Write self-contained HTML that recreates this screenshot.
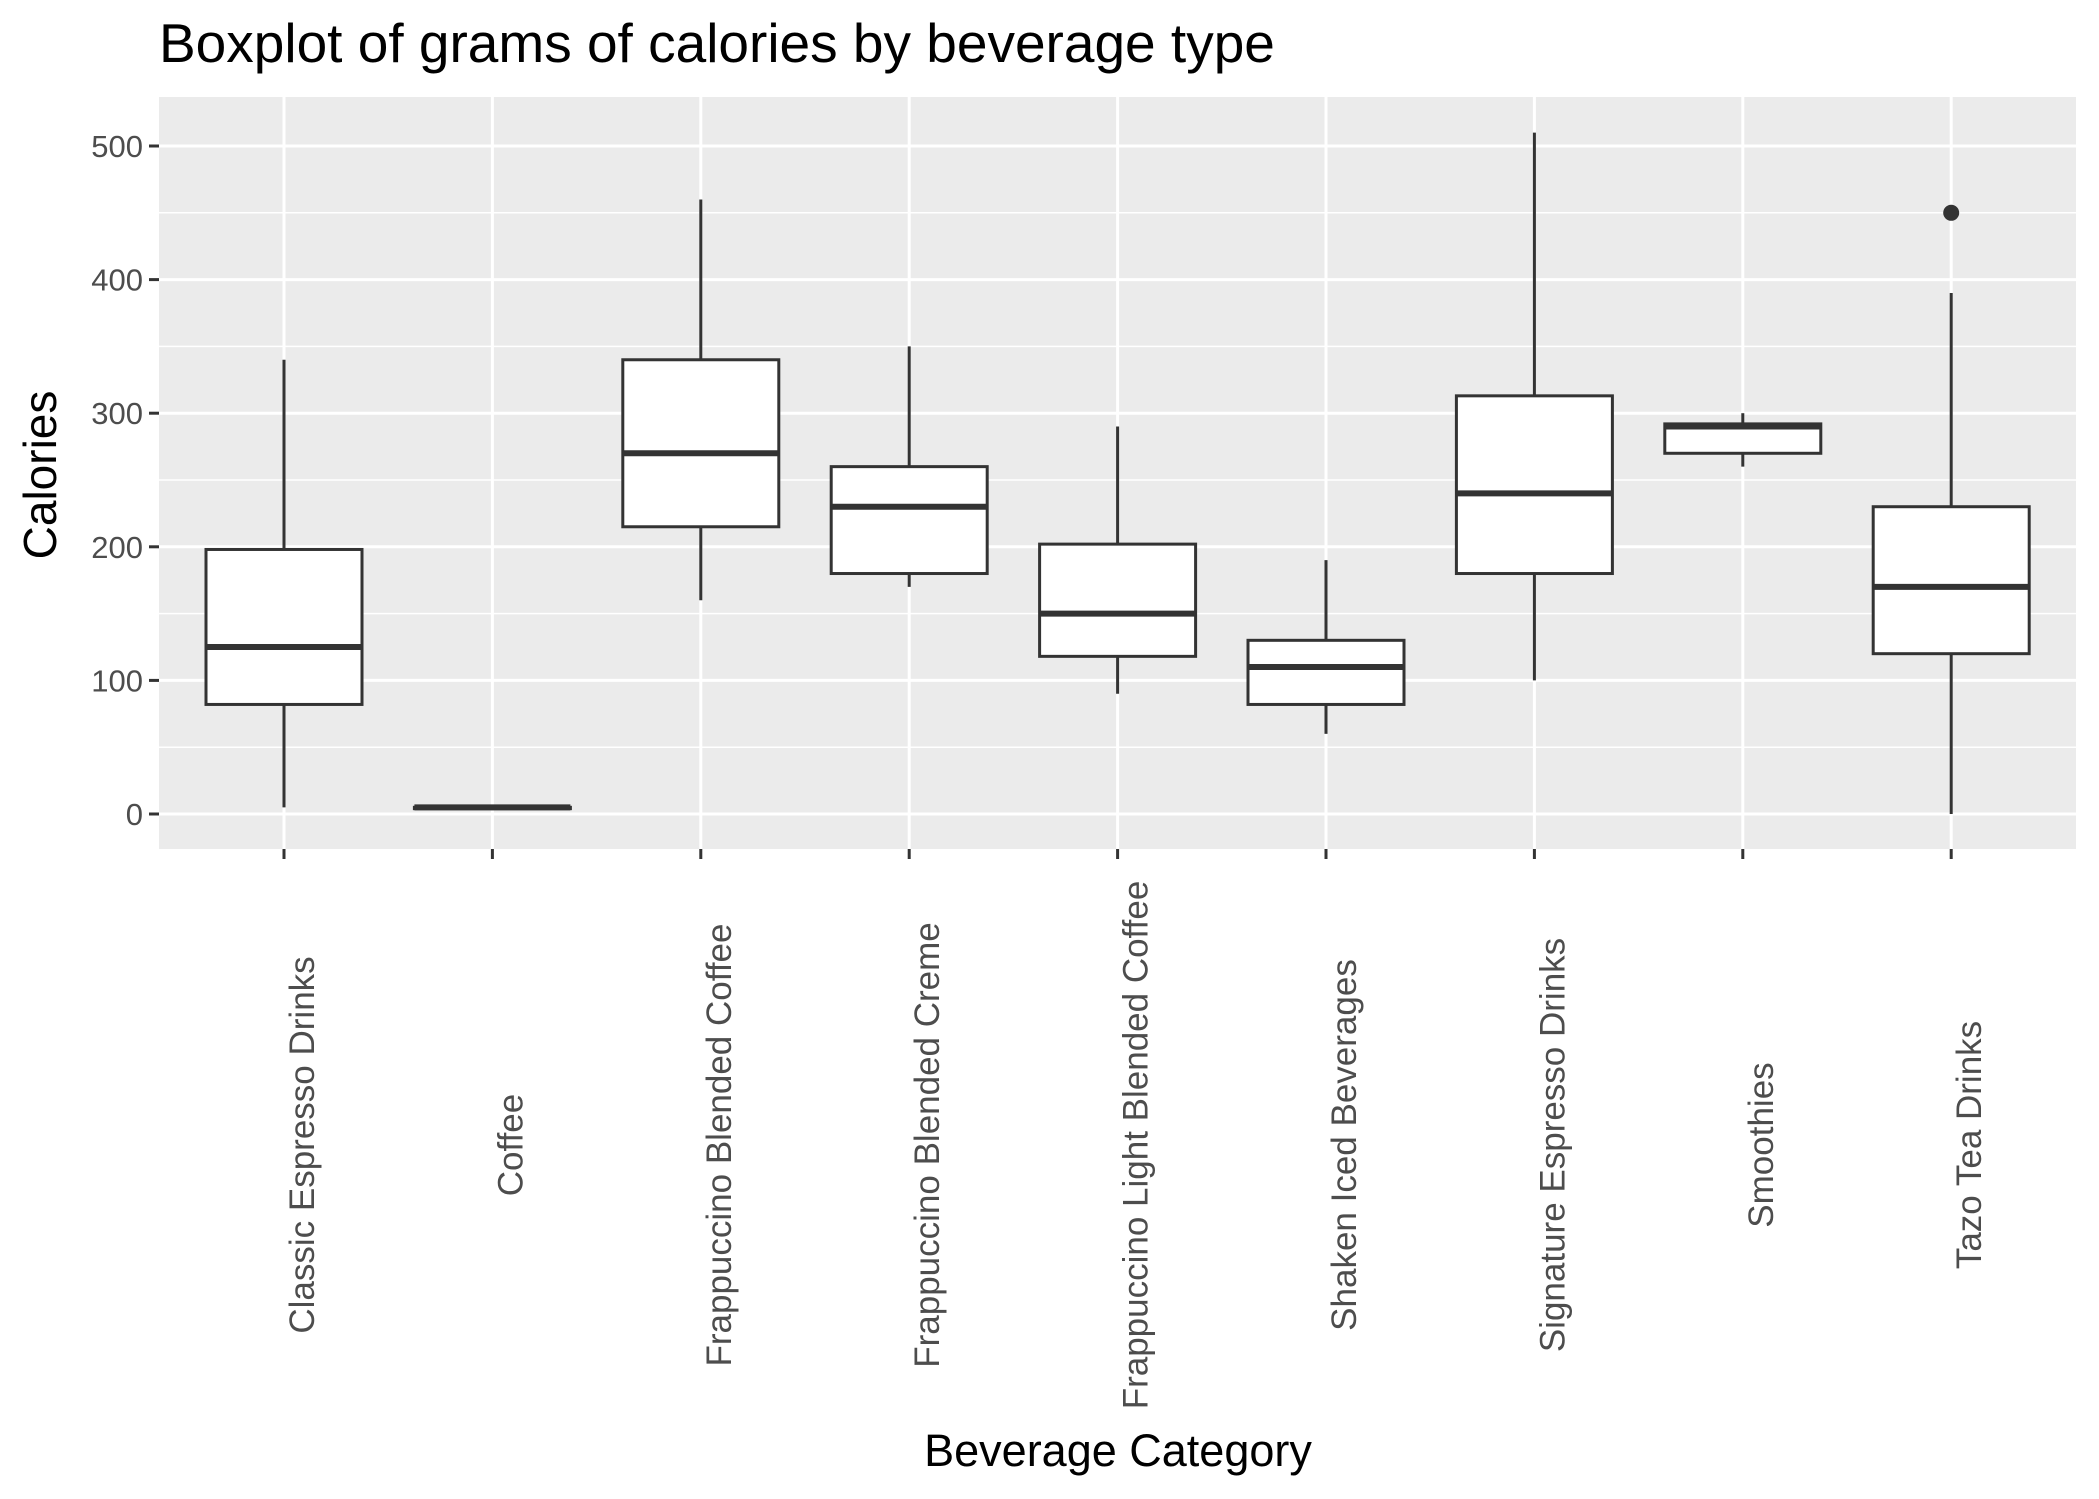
<!DOCTYPE html>
<html><head><meta charset="utf-8"><style>body{margin:0;background:#fff}svg{display:block}</style></head>
<body>
<svg id="chart" width="2099" height="1499" xmlns="http://www.w3.org/2000/svg" font-family="Liberation Sans, sans-serif">
<text x="159" y="62" font-size="55" fill="#000">Boxplot of grams of calories by beverage type</text>
<rect x="159" y="97" width="1917" height="752" fill="#ebebeb"/>
<g id="grid"></g><g id="boxes"></g><g id="axes"></g>
<text x="1118" y="1466" font-size="45" text-anchor="middle" fill="#000">Beverage Category</text>
<text transform="translate(56,475) rotate(-90)" font-size="46" text-anchor="middle" fill="#000">Calories</text>
</svg>
<script>
const categories = ["Classic Espresso Drinks","Coffee","Frappuccino Blended Coffee","Frappuccino Blended Creme","Frappuccino Light Blended Coffee","Shaken Iced Beverages","Signature Espresso Drinks","Smoothies","Tazo Tea Drinks"];
const lowWhisker = [5,3,160,170,90,60,100,260,0];
const q1 = [82,4,215,180,118,82,180,270,120];
const median = [125,5,270,230,150,110,240,290,170];
const q3 = [198,5,340,260,202,130,313,292,230];
const highWhisker = [340,5,460,350,290,190,510,300,390];
const outliers = [[],[],[],[],[],[],[],[],[450]];
const yTicks = [0,100,200,300,400,500];

const NS="http://www.w3.org/2000/svg";
const pl=159, pr=2076, pt=97, pb=849;
function x(i){return 284 + i*208.4;}
function y(v){return 814 - v*(814-146)/500;}
function mk(tag,attrs,parent){const e=document.createElementNS(NS,tag);for(const k in attrs)e.setAttribute(k,attrs[k]);parent.appendChild(e);return e;}
const grid=document.getElementById('grid'), boxes=document.getElementById('boxes'), axes=document.getElementById('axes');
for(let i=0;i<yTicks.length-1;i++){
  const l=mk('line',{x1:pl,x2:pr,y1:y((yTicks[i]+yTicks[i+1])/2),y2:y((yTicks[i]+yTicks[i+1])/2),stroke:'#fff','stroke-width':1.5},grid);
  
  
}
yTicks.forEach(t=>{
  const l=mk('line',{x1:pl,x2:pr,y1:y(t),y2:y(t),stroke:'#fff','stroke-width':3},grid);
  
  
  const tk=mk('line',{x1:pl-10,x2:pl,y1:y(t),y2:y(t),stroke:'#333','stroke-width':3},axes);
  
  
  const tx=mk('text',{x:pl-16,y:y(t)+11,'font-size':31,'text-anchor':'end',fill:'#4d4d4d'},axes);
  tx.textContent=t;
  
  
});
categories.forEach((c,i)=>{
  const cx=x(i), hw=78;
  const g=mk('line',{x1:cx,x2:cx,y1:pt,y2:pb,stroke:'#fff','stroke-width':3},grid);
  
  
  const bg=mk('g',{},boxes);
  
  
  mk('line',{x1:cx,x2:cx,y1:y(highWhisker[i]),y2:y(q3[i]),stroke:'#333','stroke-width':3},bg);
  mk('line',{x1:cx,x2:cx,y1:y(lowWhisker[i]),y2:y(q1[i]),stroke:'#333','stroke-width':3},bg);
  mk('rect',{x:cx-hw,y:y(q3[i]),width:2*hw,height:Math.max(y(q1[i])-y(q3[i]),0.1),fill:'#fff',stroke:'#333','stroke-width':3},bg);
  mk('line',{x1:cx-hw,x2:cx+hw,y1:y(median[i]),y2:y(median[i]),stroke:'#333','stroke-width':6},bg);
  outliers[i].forEach(o=>{
    const p=mk('circle',{cx:cx,cy:y(o),r:8,fill:'#333'},bg);
    
    
  });
  const tk=mk('line',{x1:cx,x2:cx,y1:pb,y2:pb+10,stroke:'#333','stroke-width':3},axes);
  
  
  const tx=mk('text',{transform:`translate(${cx+30},1145) rotate(-90)`,'font-size':35,'text-anchor':'middle',fill:'#4d4d4d'},axes);
  tx.textContent=c;
  
  
});
</script>
</body></html>
